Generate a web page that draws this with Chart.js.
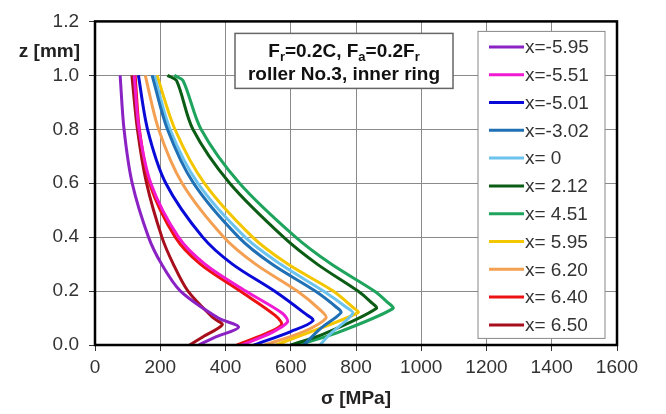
<!DOCTYPE html>
<html>
<head>
<meta charset="utf-8">
<script src="https://cdn.jsdelivr.net/npm/chart.js@4/dist/chart.umd.min.js"></script>
<style>
  body { margin: 0; background: #fff; }
  canvas { display: block; }
</style>
</head>
<body>
<canvas id="stress-chart" width="666" height="414"></canvas>
<script>
// series names (position x along the roller)
const seriesLabels = ['x=-5.95', 'x=-5.51', 'x=-5.01', 'x=-3.02', 'x= 0', 'x= 2.12', 'x= 4.51', 'x= 5.95', 'x= 6.20', 'x= 6.40', 'x= 6.50'];
const seriesColors = ['#8a22c4', '#f01ad2', '#0a0ad8', '#1f70b4', '#6cc4ee', '#0b5c14', '#1ea45c', '#f4c600', '#f4a052', '#ec1212', '#a80f1c'];

// depth z [mm] of each profile point
const zValues = [
  [1.0, 0.8, 0.6, 0.4, 0.3, 0.2, 0.1, 0.066, 0.03, 0],
  [1.0, 0.8, 0.6, 0.4, 0.3, 0.2, 0.117, 0.085, 0.045, 0],
  [1.0, 0.8, 0.6, 0.4, 0.3, 0.2, 0.12, 0.09, 0.05, 0],
  [1.0, 0.8, 0.6, 0.4, 0.3, 0.2, 0.14, 0.12, 0.06, 0],
  [1.0, 0.8, 0.6, 0.4, 0.3, 0.2, 0.14, 0.117, 0.04, 0],
  [1.0, 0.98, 0.8, 0.6, 0.4, 0.3, 0.2, 0.16, 0.135, 0.04, 0],
  [1.0, 0.98, 0.8, 0.6, 0.4, 0.3, 0.2, 0.16, 0.135, 0.04, 0],
  [1.0, 0.8, 0.6, 0.4, 0.3, 0.2, 0.14, 0.12, 0.03, 0],
  [1.0, 0.8, 0.6, 0.4, 0.3, 0.2, 0.13, 0.1, 0.05, 0],
  [1.0, 0.8, 0.6, 0.4, 0.3, 0.2, 0.11, 0.075, 0.04, 0],
  [1.0, 0.8, 0.6, 0.4, 0.3, 0.2, 0.1, 0.075, 0.03, 0]
];

// stress sigma [MPa] at those depths
const sigmaValues = [
  [77, 89, 114, 164, 204, 262, 378, 440, 370, 318],
  [120, 135, 171, 256, 337, 462, 575, 590, 540, 450],
  [133, 161, 217, 330, 421, 550, 640, 668, 600, 487],
  [175, 222, 302, 440, 542, 675, 740, 754, 690, 640],
  [182, 230, 315, 460, 568, 700, 770, 790, 720, 690],
  [222, 250, 300, 413, 578, 681, 806, 845, 862, 700, 600],
  [243, 270, 325, 443, 615, 724, 856, 895, 913, 730, 620],
  [190, 245, 335, 483, 591, 730, 790, 806, 620, 555],
  [154, 195, 267, 395, 492, 620, 690, 708, 640, 520],
  [123, 136, 167, 246, 323, 445, 552, 572, 520, 435],
  [113, 130, 158, 205, 240, 285, 363, 390, 330, 290]
];

const xTickStep = 200;
const yTickStep = 0.2;

const FONT = '"Liberation Sans", Arial, sans-serif';
const TEXT = '#333';

const datasets = seriesLabels.map((label, i) => ({
  label: label,
  data: zValues[i].map((z, k) => ({ x: sigmaValues[i][k], y: z })),
  borderColor: seriesColors[i],
  backgroundColor: seriesColors[i],
  borderWidth: 3,
  pointRadius: 0,
  showLine: true,
  tension: 0.3,
  fill: false
}));

// frame, text box, legend and axis titles
const decorations = {
  id: 'decorations',
  afterDraw(chart) {
    const ctx = chart.ctx;
    const a = chart.chartArea;
    ctx.save();

    ctx.strokeStyle = '#000';
    ctx.lineWidth = 2.5;
    ctx.strokeRect(a.left, a.top, a.right - a.left, a.bottom - a.top);

    // load case box
    const bx = a.left + 140, by = a.top + 12, bw = 218, bh = 55;
    ctx.fillStyle = '#fff';
    ctx.fillRect(bx, by, bw, bh);
    ctx.strokeStyle = '#666';
    ctx.lineWidth = 1.5;
    ctx.strokeRect(bx, by, bw, bh);

    const big = 'bold 19px ' + FONT;
    const small = 'bold 13px ' + FONT;
    const parts = [['F', 0], ['r', 1], ['=0.2C, F', 0], ['a', 1], ['=0.2F', 0], ['r', 1]];
    let w = 0;
    parts.forEach(p => { ctx.font = p[1] ? small : big; w += ctx.measureText(p[0]).width; });
    let tx = bx + bw / 2 - w / 2;
    const line1 = by + 24;
    ctx.fillStyle = '#111';
    ctx.textBaseline = 'alphabetic';
    ctx.textAlign = 'left';
    parts.forEach(p => {
      ctx.font = p[1] ? small : big;
      ctx.fillText(p[0], tx, line1 + (p[1] ? 4 : 0));
      tx += ctx.measureText(p[0]).width;
    });
    ctx.font = big;
    ctx.textAlign = 'center';
    ctx.fillText('roller No.3, inner ring', bx + bw / 2, by + 47);

    // legend
    const lx = a.right - 139, ly = a.top + 10, lw = 127, lh = 307;
    ctx.fillStyle = '#fff';
    ctx.fillRect(lx, ly, lw, lh);
    ctx.strokeStyle = '#888';
    ctx.lineWidth = 1;
    ctx.strokeRect(lx, ly, lw, lh);
    ctx.font = '19px ' + FONT;
    ctx.textAlign = 'left';
    ctx.textBaseline = 'middle';
    chart.data.datasets.forEach((ds, i) => {
      const ry = ly + 15.5 + i * 27.8;
      ctx.strokeStyle = ds.borderColor;
      ctx.lineWidth = 3;
      ctx.beginPath();
      ctx.moveTo(lx + 11, ry);
      ctx.lineTo(lx + 46, ry);
      ctx.stroke();
      ctx.fillStyle = TEXT;
      ctx.fillText(ds.label, lx + 47, ry + 1);
    });

    // axis titles
    ctx.fillStyle = '#222';
    ctx.font = 'bold 19px ' + FONT;
    ctx.textAlign = 'right';
    ctx.fillText('z [mm]', a.left - 15, a.top + 30);
    ctx.textAlign = 'center';
    ctx.fillText('σ [MPa]', (a.left + a.right) / 2, a.bottom + 54);

    ctx.restore();
  }
};

new Chart(document.getElementById('stress-chart'), {
  type: 'scatter',
  data: { datasets: datasets },
  options: {
    responsive: false,
    animation: false,
    layout: { padding: { top: 18, right: 49, left: 0, bottom: 0 } },
    plugins: {
      legend: { display: false },
      tooltip: { enabled: false }
    },
    scales: {
      x: {
        type: 'linear',
        min: 0,
        max: 1600,
        ticks: { stepSize: xTickStep, color: TEXT, font: { family: FONT, size: 19 }, padding: 5,
          callback: v => String(v) },
        grid: { color: '#8a8a8a', lineWidth: 1, tickLength: 6, tickColor: '#333' },
        border: { display: false },
        afterFit: s => { s.height = 69; }
      },
      y: {
        type: 'linear',
        min: 0,
        max: 1.2,
        ticks: { stepSize: yTickStep, color: TEXT, font: { family: FONT, size: 19 }, padding: 10,
          callback: v => v.toFixed(1) },
        grid: { color: '#8a8a8a', lineWidth: 1, tickLength: 6, tickColor: '#333' },
        border: { display: false },
        afterFit: s => { s.width = 95; }
      }
    }
  },
  plugins: [decorations]
});
</script>
</body>
</html>
